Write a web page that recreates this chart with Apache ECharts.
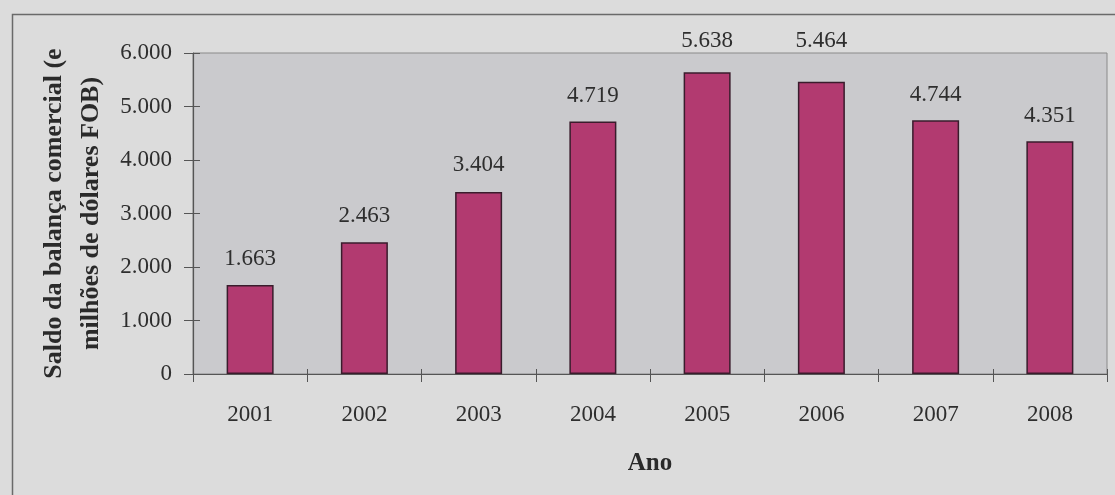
<!DOCTYPE html>
<html>
<head>
<meta charset="utf-8">
<script src="https://cdn.jsdelivr.net/npm/echarts@6/dist/echarts.min.js"></script>
<style>
html,body{margin:0;padding:0;background:#dcdcdc;}
#chart{width:1115px;height:495px;}
</style>
</head>
<body>
<div id="chart"></div>
<script>
var categories = ['2001','2002','2003','2004','2005','2006','2007','2008'];
var values = [1663, 2463, 3404, 4719, 5638, 5464, 4744, 4351];
var yAxisTitle = 'Saldo da balança comercial (e\nmilhões de dólares FOB)';
var xAxisTitle = 'Ano';
var labelDistances = [15, 15, 15, 14, 20, 29, 14, 14];

function fmt(v){ return String(v).replace(/\B(?=(\d{3})+(?!\d))/g, '.'); }

var chart = echarts.init(document.getElementById('chart'), null, {renderer:'canvas'});
var serif = '"Liberation Serif","Times New Roman",serif';
chart.setOption({
  backgroundColor: '#dcdcdc',
  animation: false,
  graphic: [{
    type: 'rect', left: 10, top: 12, silent: true,
    shape: {width: 1125, height: 500},
    style: {fill: 'none', stroke: '#6a6a6a', lineWidth: 1.5}
  }],
  grid: {
    left: 193, right: 8, top: 53, bottom: 121,
    show: true, backgroundColor: '#cacacd', borderColor: '#8a8a8a', borderWidth: 1
  },
  xAxis: [{
    type: 'category', data: categories,
    name: xAxisTitle, nameLocation: 'middle', nameGap: 77,
    nameTextStyle: {fontFamily: serif, fontWeight: 'bold', fontSize: 25, color: '#2a2a2a'},
    axisLine: {lineStyle: {color: '#555', width: 1.2}},
    axisTick: {show: true, length: 8, lineStyle: {color: '#555'}},
    axisLabel: {fontFamily: serif, fontSize: 23, color: '#2e2e2e', margin: 29}
  }, {
    type: 'category', data: categories, position: 'bottom',
    axisLine: {show: false},
    axisTick: {show: true, inside: true, length: 5, lineStyle: {color: '#555'}},
    axisLabel: {show: false}
  }],
  yAxis: [{
    type: 'value', min: 0, max: 6000, interval: 1000,
    name: yAxisTitle, nameLocation: 'middle', nameGap: 82, nameRotate: 90,
    nameTextStyle: {fontFamily: serif, fontWeight: 'bold', fontSize: 26, color: '#2a2a2a', lineHeight: 37, align: 'center'},
    axisLine: {show: true, lineStyle: {color: '#555', width: 1.2}},
    axisTick: {show: true, length: 9, lineStyle: {color: '#555'}},
    splitLine: {show: false},
    axisLabel: {fontFamily: serif, fontSize: 23, color: '#2e2e2e', margin: 21, formatter: fmt}
  }, {
    type: 'value', min: 0, max: 6000, interval: 1000, position: 'left',
    axisLine: {show: false},
    axisTick: {show: true, inside: true, length: 7, lineStyle: {color: '#555'}},
    splitLine: {show: false},
    axisLabel: {show: false}
  }],
  series: [{
    type: 'bar',
    barWidth: 47,
    xAxisIndex: 0, yAxisIndex: 0,
    data: values.map(function(v, i){
      return {value: v, label: {distance: labelDistances[i]}};
    }),
    itemStyle: {color: '#b23a70', borderColor: '#3a1c2c', borderWidth: 1.5},
    label: {
      show: true, position: 'top',
      fontFamily: serif, fontSize: 23, color: '#2e2e2e',
      formatter: function(p){ return fmt(p.value); }
    }
  }]
});
</script>
</body>
</html>
